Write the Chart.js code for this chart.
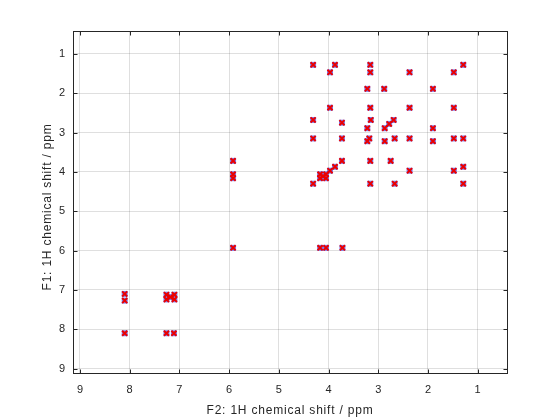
<!DOCTYPE html>
<html>
<head>
<meta charset="utf-8">
<script src="https://cdn.jsdelivr.net/npm/chart.js@4/dist/chart.umd.min.js"></script>
<style>
  html, body { margin: 0; padding: 0; background: #fff; }
  canvas { display: block; }
</style>
</head>
<body>
<canvas id="cosy" width="560" height="420"></canvas>
<script>
const f2Ticks = [9, 8, 7, 6, 5, 4, 3, 2, 1];
const f1Ticks = [1, 2, 3, 4, 5, 6, 7, 8, 9];
const f2Range = [0.41, 9.14];
const f1Range = [0.42, 9.11];
const f2Title = 'F2: 1H chemical shift / ppm';
const f1Title = 'F1: 1H chemical shift / ppm';

// cross peaks, F2 (horizontal) and F1 (vertical) in ppm
const peakF2 = [
  4.31, 3.87, 3.16, 1.29,
  3.97, 3.16, 2.37, 1.48,
  3.22, 2.88, 1.90,
  3.97, 3.16, 2.37, 1.48,
  4.31, 3.15, 2.69, 3.73, 2.78,
  3.22, 2.87, 1.90,
  4.31, 3.73, 3.18, 2.67, 2.37, 1.48, 1.29,
  3.22, 2.87, 1.90,
  5.92, 3.73, 3.16, 2.75,
  3.87, 1.29,
  3.97, 2.37, 1.48,
  5.92, 5.92,
  4.17, 4.05, 4.17, 4.05, 4.11,
  4.31, 3.16, 2.67, 1.29,
  5.92, 4.17, 4.05, 3.72,
  8.10, 8.10,
  7.26, 7.10, 7.26, 7.10, 7.18,
  8.10, 7.26, 7.11
];
const peakF1 = [
  1.28, 1.28, 1.28, 1.28,
  1.47, 1.47, 1.47, 1.47,
  1.89, 1.89, 1.89,
  2.37, 2.37, 2.37, 2.37,
  2.68, 2.68, 2.68, 2.75, 2.78,
  2.89, 2.89, 2.89,
  3.15, 3.15, 3.15, 3.15, 3.15, 3.15, 3.15,
  3.22, 3.22, 3.22,
  3.72, 3.72, 3.72, 3.72,
  3.87, 3.87,
  3.97, 3.97, 3.97,
  4.06, 4.16,
  4.06, 4.06, 4.16, 4.16, 4.11,
  4.30, 4.30, 4.30, 4.30,
  5.93, 5.93, 5.93, 5.93,
  7.10, 7.27,
  7.12, 7.12, 7.24, 7.24, 7.18,
  8.10, 8.10, 8.10
];

const peaks = () => peakF2.map((x, i) => ({ x, y: peakF1[i] }));

const axisColor = '#262626';

const frame = {
  id: 'frame',
  afterDraw(chart) {
    const { ctx, chartArea: a, scales: { x, y } } = chart;
    const L = Math.round(a.left) + 0.5, R = Math.round(a.right) + 0.5;
    const T = Math.round(a.top) + 0.5, B = Math.round(a.bottom) + 0.5;
    ctx.save();
    ctx.strokeStyle = axisColor;
    ctx.lineWidth = 1;
    ctx.strokeRect(L, T, R - L, B - T);
    ctx.beginPath();
    f2Ticks.forEach(v => {
      const px = Math.round(x.getPixelForValue(v)) + 0.5;
      ctx.moveTo(px, B); ctx.lineTo(px, B - 4);
      ctx.moveTo(px, T); ctx.lineTo(px, T + 4);
    });
    f1Ticks.forEach(v => {
      const py = Math.round(y.getPixelForValue(v)) + 0.5;
      ctx.moveTo(L, py); ctx.lineTo(L + 4, py);
      ctx.moveTo(R, py); ctx.lineTo(R - 4, py);
    });
    ctx.stroke();

    ctx.fillStyle = axisColor;
    ctx.font = '12px "Liberation Sans", Arial, sans-serif';
    ctx.letterSpacing = '0.8px';
    ctx.textAlign = 'center';
    ctx.textBaseline = 'middle';
    ctx.fillText(f2Title, (a.left + a.right) / 2, 411);
    ctx.translate(48, (a.top + a.bottom) / 2 + 5);
    ctx.rotate(-Math.PI / 2);
    ctx.fillText(f1Title, 0, 0);
    ctx.restore();
  }
};

new Chart(document.getElementById('cosy'), {
  type: 'scatter',
  data: {
    datasets: [
      {
        label: 'positive',
        data: peaks(),
        pointStyle: 'crossRot',
        pointRadius: 3.6,
        pointBorderColor: 'rgb(235,0,0)',
        pointBackgroundColor: 'rgb(235,0,0)',
        pointBorderWidth: 2
      },
      {
        label: 'negative',
        data: peaks(),
        pointStyle: 'rect',
        pointRadius: 4.2,
        pointBackgroundColor: 'rgb(120,120,235)',
        pointBorderWidth: 0
      }
    ]
  },
  options: {
    responsive: false,
    animation: false,
    devicePixelRatio: 1,
    layout: { autoPadding: false, padding: { top: 31, right: 53, left: 0, bottom: 0 } },
    plugins: { legend: { display: false }, tooltip: { enabled: false } },
    scales: {
      x: {
        type: 'linear',
        reverse: true,
        min: f2Range[0],
        max: f2Range[1],
        afterFit: s => { s.height = 47; },
        afterBuildTicks: s => { s.ticks = f2Ticks.map(v => ({ value: v })); },
        border: { display: false },
        grid: { color: 'rgba(38,38,38,0.15)', drawTicks: false },
        ticks: {
          padding: 10,
          color: axisColor,
          font: { family: '"Liberation Sans", Arial, sans-serif', size: 11 }
        }
      },
      y: {
        type: 'linear',
        reverse: true,
        min: f1Range[0],
        max: f1Range[1],
        afterFit: s => { s.width = 73; },
        afterBuildTicks: s => { s.ticks = f1Ticks.map(v => ({ value: v })); },
        border: { display: false },
        grid: { color: 'rgba(38,38,38,0.15)', drawTicks: false },
        ticks: {
          padding: 8,
          color: axisColor,
          font: { family: '"Liberation Sans", Arial, sans-serif', size: 11 }
        }
      }
    }
  },
  plugins: [frame]
});
</script>
</body>
</html>
